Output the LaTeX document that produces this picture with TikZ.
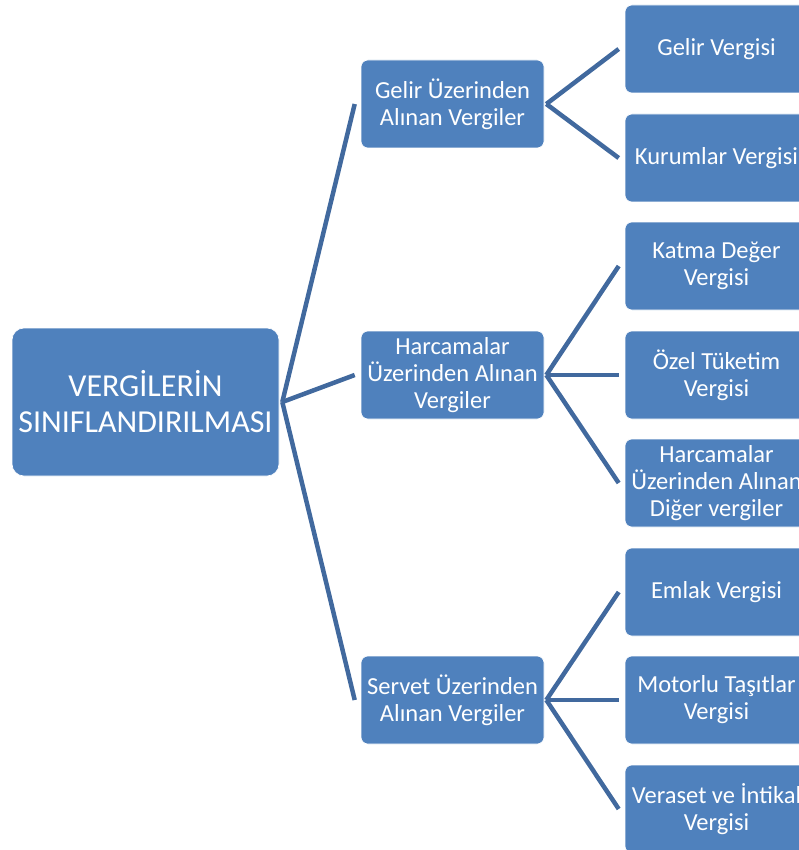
\documentclass[tikz,border=0pt]{standalone}
\usepackage{fontspec}
\setmainfont{Carlito}
\definecolor{boxblue}{HTML}{4F81BD}
\definecolor{linkblue}{HTML}{41699E}
\begin{document}
\begin{tikzpicture}[x=1pt,y=-1pt,
  box/.style={rectangle, rounded corners=7pt, fill=boxblue, draw=white, line width=0.6pt,
    minimum width=183pt, minimum height=88pt, inner sep=0pt, align=center,
    text=white, font=\fontsize{24.5}{27}\selectfont},
  rootbox/.style={box, rounded corners=12pt, minimum width=267pt, minimum height=148pt,
    font=\fontsize{32}{36}\selectfont},
  conn/.style={draw=linkblue, line width=4.5pt, line cap=butt, line join=miter}]
\useasboundingbox (0,0) rectangle (799,850);
\clip (0,0) rectangle (799,850);

\node[rootbox] (root) at (145.5,402) {VERGİLERİN\\SINIFLANDIRILMASI};

\node[box] (m1) at (452.5,104) {Gelir Üzerinden\\Alınan Vergiler};
\node[box] (m2) at (452.5,375) {Harcamalar\\Üzerinden Alınan\\Vergiler};
\node[box] (m3) at (452.5,700) {Servet Üzerinden\\Alınan Vergiler};

\node[box] (r1) at (716.5,49) {Gelir Vergisi};
\node[box] (r2) at (716.5,158) {Kurumlar Vergisi};
\node[box] (r3) at (716.5,266) {Katma Değer\\Vergisi};
\node[box] (r4) at (716.5,375) {Özel Tüketim\\Vergisi};
\node[box] (r5) at (716.5,483) {Harcamalar\\Üzerinden Alınan\\Diğer vergiler};
\node[box] (r6) at (716.5,592) {Emlak Vergisi};
\node[box] (r7) at (716.5,700) {Motorlu Taşıtlar\\Vergisi};
\node[box] (r8) at (716.5,809) {Veraset ve İntikal\\Vergisi};

\foreach \m in {m1,m2,m3}
  \draw[conn] ([xshift=3pt]root.east) -- ([xshift=-6pt]\m.west);
\foreach \r in {r1,r2}
  \draw[conn] ([xshift=2pt]m1.east) -- ([xshift=-6pt]\r.west);
\foreach \r in {r3,r4,r5}
  \draw[conn] ([xshift=2pt]m2.east) -- ([xshift=-6pt]\r.west);
\foreach \r in {r6,r7,r8}
  \draw[conn] ([xshift=2pt]m3.east) -- ([xshift=-6pt]\r.west);
\end{tikzpicture}
\end{document}
